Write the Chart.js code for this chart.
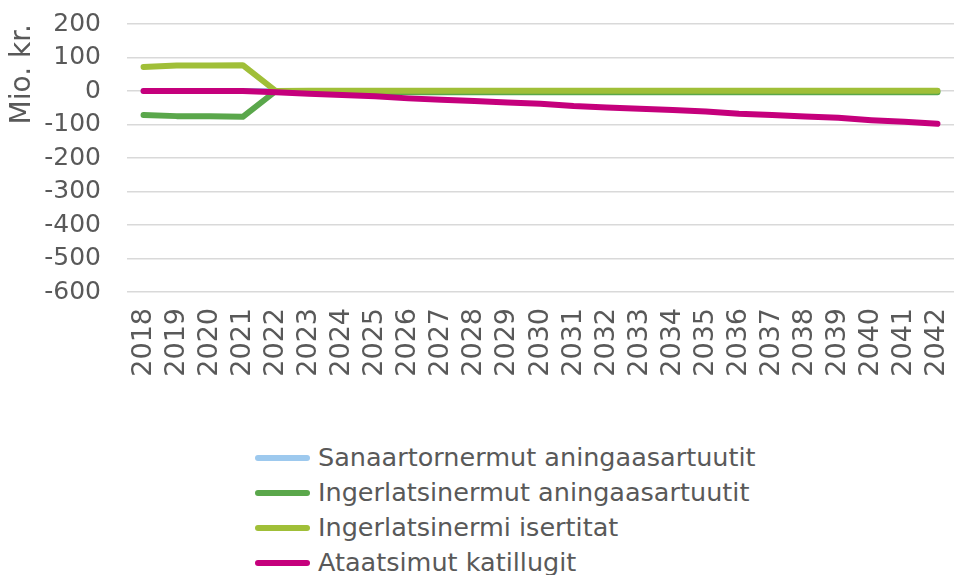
<!DOCTYPE html>
<html>
<head>
<meta charset="utf-8">
<script src="https://cdn.jsdelivr.net/npm/chart.js@4"></script>
<style>
  body { margin: 0; background: #fff; }
  #wrap { position: relative; width: 954px; height: 575px; overflow: hidden; }
  #chartBox { position: absolute; left: 0; top: 0; width: 954px; height: 400px; }
  #legend { position: absolute; left: 255px; top: 440px; font-family: "DejaVu Sans", Verdana, sans-serif; font-size: 25.5px; color: #595959; }
  .item { height: 35px; line-height: 35px; white-space: nowrap; display: flex; align-items: center; }
  .swatch { width: 55px; height: 6px; border-radius: 3px; margin-right: 8px; }
</style>
</head>
<body>
<div id="wrap">
  <div id="chartBox"><canvas id="chart"></canvas></div>
  <div id="legend"></div>
</div>
<script>
// ---- data ----
const years = ["2018","2019","2020","2021","2022","2023","2024","2025","2026","2027","2028","2029",
  "2030","2031","2032","2033","2034","2035","2036","2037","2038","2039","2040","2041","2042"];

const sanaartornermut = [0,0,0,0,0,0,0,0,0,0,0,0,0,0,0,0,0,0,0,0,0,0,0,0,0];
const ingerlatsinermutAn = [-72,-75,-75,-77,0,-3,-4,-4,-4,-4,-4,-4,-4,-4,-4,-4,-4,-4,-4,-4,-4,-4,-4,-4,-4];
const ingerlatsinermiIs = [72,76,76,77,0,1,1,1,1,1,1,1,1,1,1,1,1,1,1,1,1,1,1,1,1];
const ataatsimut = [0,0,0,0,-4,-8,-12,-16,-22,-26,-30,-34,-38,-45,-49,-53,-57,-61,-68,-72,-76,-80,-87,-92,-98];

const yMin = -600;
const yMax = 200;
const yStep = 100;

const seriesNames = [
  "Sanaartornermut aningaasartuutit",
  "Ingerlatsinermut aningaasartuutit",
  "Ingerlatsinermi isertitat",
  "Ataatsimut katillugit"
];
const seriesColors = ["#9dc9ee", "#5aa74b", "#a0bf38", "#c5007c"];
const seriesData = [sanaartornermut, ingerlatsinermutAn, ingerlatsinermiIs, ataatsimut];
const drawOrder = [3, 2, 1, 0];

const FONT = "\"DejaVu Sans\", Verdana, sans-serif";

const ctx = document.getElementById("chart").getContext("2d");
const chart = new Chart(ctx, {
  type: "line",
  data: {
    labels: years,
    datasets: seriesNames.map((name, i) => ({
      label: name,
      data: seriesData[i],
      borderColor: seriesColors[i],
      backgroundColor: seriesColors[i],
      borderWidth: 6,
      pointRadius: 0,
      tension: 0,
      fill: false,
      borderCapStyle: "round",
      borderJoinStyle: "round",
      order: drawOrder[i]
    }))
  },
  options: {
    responsive: true,
    maintainAspectRatio: false,
    animation: false,
    layout: { padding: { top: 24, right: 0, left: 0, bottom: 0 } },
    plugins: {
      legend: { display: false },
      tooltip: { enabled: false }
    },
    scales: {
      x: {
        offset: true,
        grid: { display: false, drawTicks: false },
        border: { display: false },
        ticks: {
          color: "#595959",
          font: { family: FONT, size: 27 },
          minRotation: 90,
          maxRotation: 90,
          autoSkip: false,
          padding: 16
        },
        afterFit(scale) {
          scale.height = 108;
          scale.paddingLeft = 0;
          scale.paddingRight = 0;
        }
      },
      y: {
        min: yMin,
        max: yMax,
        grid: { color: "#d9d9d9", lineWidth: 1.5, drawTicks: false },
        border: { display: false },
        ticks: {
          stepSize: yStep,
          autoSkip: false,
          color: "#595959",
          font: { family: FONT, size: 25 },
          padding: 26
        },
        title: {
          display: true,
          text: "Mio. kr.",
          align: "end",
          color: "#595959",
          font: { family: FONT, size: 28 },
          padding: { top: 6, bottom: 0 }
        },
        afterFit(scale) {
          scale.width = 127;
          scale.paddingTop = 0;
          scale.paddingBottom = 0;
        }
      }
    }
  }
});

// ---- legend ----
const legendEl = document.getElementById("legend");
seriesNames.forEach((name, i) => {
  const row = document.createElement("div");
  row.className = "item";
  const sw = document.createElement("span");
  sw.className = "swatch";
  sw.style.background = seriesColors[i];
  const txt = document.createElement("span");
  txt.textContent = name;
  row.appendChild(sw);
  row.appendChild(txt);
  legendEl.appendChild(row);
});
</script>
</body>
</html>
